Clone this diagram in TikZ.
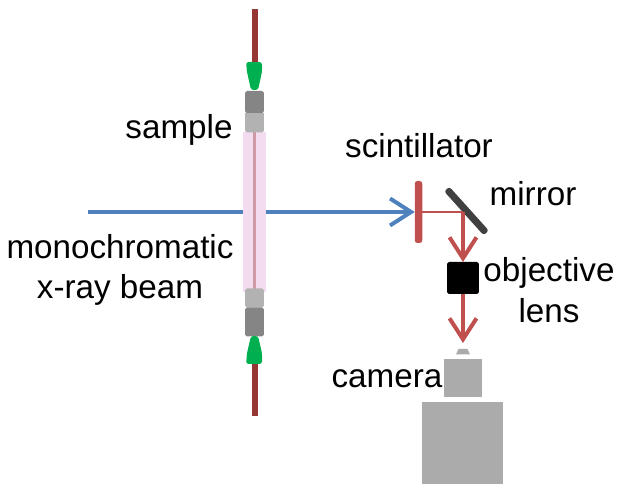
\documentclass[tikz,border=0pt]{standalone}
\usepackage{fontspec}
\setmainfont{Liberation Sans}
\usepackage{xcolor}
\usetikzlibrary{arrows.meta}
\definecolor{rod}{HTML}{953735}
\definecolor{holder}{HTML}{00B050}
\definecolor{beam}{HTML}{4F81BD}
\definecolor{optic}{HTML}{C0504D}
\definecolor{tube}{HTML}{F3DCEF}
\begin{document}
\begin{tikzpicture}[x=0.02cm,y=-0.02cm,
  lbl/.style={font=\fontsize{18.9}{23}\selectfont,align=center,inner sep=0pt,text=black},
  part/.style={draw=none,inner sep=0pt,outer sep=0pt,minimum width=#1},
  part/.default=0.38cm,
  arr/.style={-{Straight Barb[length=4.2mm,width=5.4mm,line width=0.8mm]},line width=0.65mm},
  ray/.style={arr,draw=optic}]
\useasboundingbox (0,0) rectangle (623,492);
% capillary
\node[part=0.46cm,fill=tube,minimum height=3.2cm] (capillary) at (254.5,212) {};
\draw[rod!40!tube,line width=0.45mm] (capillary.north) -- (capillary.south);
% end caps
\node[part,fill=black!30,minimum height=0.42cm,rounded corners=1pt] (lightT) at (254.5,122) {};
\node[part,fill=black!48,minimum height=0.44cm,rounded corners=1pt] (darkT)  at (254.5,102) {};
\node[part,fill=black!30,minimum height=0.38cm,rounded corners=1pt] (lightB) at (254.5,298) {};
\node[part,fill=black!48,minimum height=0.58cm,rounded corners=1pt] (darkB)  at (254.5,322) {};
% pins
\fill[holder,rounded corners=1.5pt] (246,62) -- (262,62) -- (262,72) -- (258,90) -- (251,90) -- (247,72) -- cycle;
\fill[holder,rounded corners=1.5pt] (246,364) -- (262,364) -- (262,353) -- (258,336) -- (251,336) -- (247,353) -- cycle;
\node[part=0.12cm,fill=rod,minimum height=1.06cm] (pinT) at (254.5,35.5) {};
\node[part=0.12cm,fill=rod,minimum height=1.04cm] (pinB) at (254.5,390) {};
% optics
\node[part=0.15cm,fill=optic,minimum height=1.24cm,rounded corners=1.5pt] (scint) at (418.5,212) {};
\node[part=1.18cm,fill=black!75,minimum height=0.14cm,rounded corners=1.5pt,rotate=-48] (mirror) at (466.5,211) {};
\node[part=0.64cm,fill=black,minimum height=0.64cm,rounded corners=1pt] (lens) at (463,278) {};
\node[part=1.62cm,fill=black!33,minimum height=1.64cm] (body) at (462.5,443) {};
\node[part=0.76cm,fill=black!33,minimum height=0.76cm] (head) at (463,378) {};
\fill[black!33] (456,354.5) -- (470,354.5) -- (467.5,349) -- (458.5,349) -- cycle;
% rays
\coordinate (src) at (88,212);
\coordinate (hit) at (463,212);
\draw[beam,line width=0.65mm] (src) -- (capillary.west |- src);
\draw[arr,draw=beam] (capillary.east |- src) -- (scint.west |- src);
\draw[optic,line width=0.45mm] (scint.center |- hit) -- (hit);
\draw[ray] (hit) -- (lens.north);
\draw[ray] (lens.south) -- (463,343);
% labels
\node[lbl] (sample) at (179,130) {sample};
\node[lbl] (scintlbl) at (419,146) {scintillator};
\node[lbl] (mirrorlbl) at (533,194) {mirror};
\node[lbl] (beamlbl) at (120,270) {monochromatic\\x-ray beam};
\node[lbl] (lenslbl) at (549,290) {objective\\lens};
\node[lbl] (camlbl) at (387,379) {camera};
\end{tikzpicture}
\end{document}
